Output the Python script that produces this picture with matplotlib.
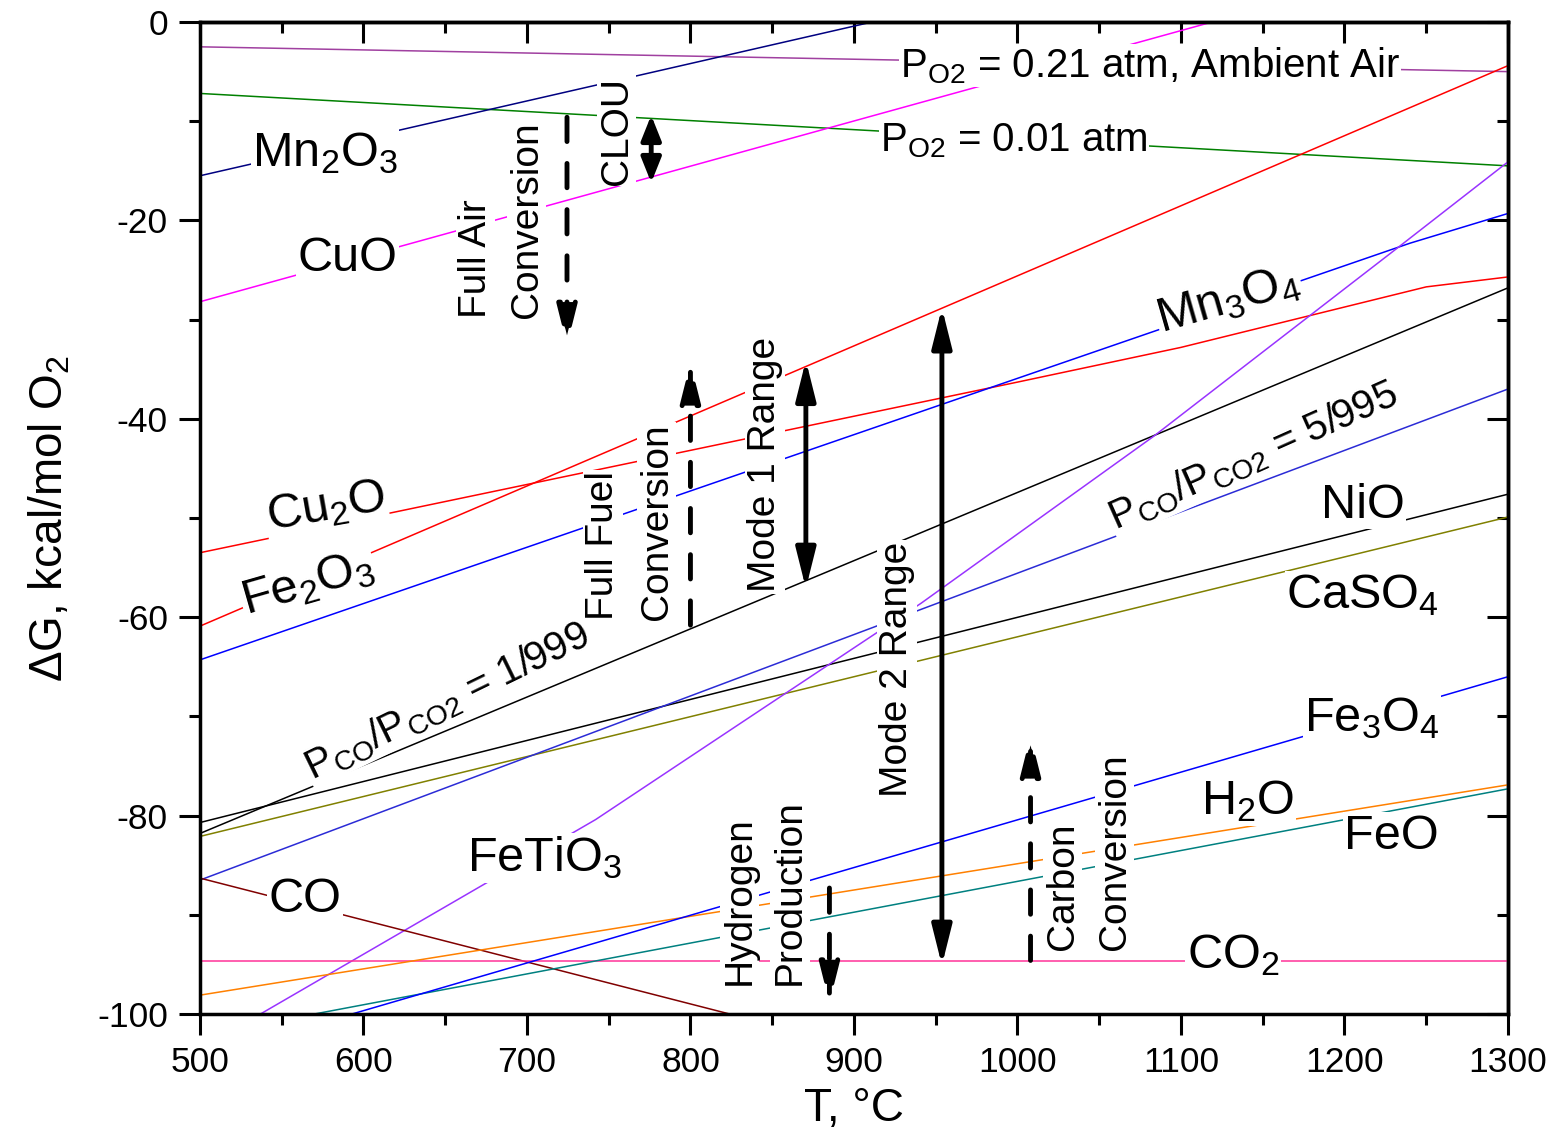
import matplotlib
matplotlib.use("Agg")
import matplotlib.pyplot as plt
from matplotlib.ticker import MultipleLocator

plt.rcParams['font.family'] = 'Liberation Sans'
plt.rcParams['mathtext.fontset'] = 'custom'
plt.rcParams['mathtext.rm'] = 'Liberation Sans'
plt.rcParams['mathtext.default'] = 'regular'
plt.rcParams['axes.unicode_minus'] = False

# --- data (T in degC, dG in kcal/mol O2) ---
po2_021_T = [500, 1300]
po2_021_G = [-2.5, -5.0]
po2_001_T = [500, 1300]
po2_001_G = [-7.2, -14.5]
mn2o3_T = [500, 911]
mn2o3_G = [-15.5, 0.0]
cuo_T = [500, 1119]
cuo_G = [-28.2, 0.0]
fe2o3_T = [500, 1300]
fe2o3_G = [-60.9, -4.4]
cu2o_T = [500, 1000, 1100, 1250, 1300]
cu2o_G = [-53.5, -36.3, -32.8, -26.7, -25.7]
mn3o4_T = [500, 1240, 1300]
mn3o4_G = [-64.3, -22.3, -19.3]
co999_T = [500, 1300]
co999_G = [-81.8, -26.8]
nio_T = [500, 1300]
nio_G = [-80.7, -47.6]
caso4_T = [500, 1300]
caso4_G = [-82.1, -49.9]
co995_T = [500, 1300]
co995_G = [-86.5, -37.0]
fetio3_T = [537, 742, 941, 1083, 1233, 1300]
fetio3_G = [-100, -80.4, -58.6, -41.8, -22.7, -14.1]
co_T = [500, 824]
co_G = [-86.3, -100]
co2_T = [500, 1300]
co2_G = [-94.7, -94.7]
h2o_T = [500, 1300]
h2o_G = [-98.1, -76.9]
feo_T = [570, 1300]
feo_G = [-100, -77.3]
fe3o4_T = [593, 1300]
fe3o4_G = [-100, -66.0]

# arrows: (T, start, end, head length)
dashed_arrows = [(724.5, -9.6, -32.6, 1.2), (800, -60.8, -34.3, 1.2),
                 (885, -87.3, -98.9, 1.2), (1008, -94.6, -71.9, 1.2)]
double_arrows = [(776, -9.4, -16.2, 0.75), (870.6, -34.1, -57.1, 1.2),
                 (953.8, -28.8, -95.1, 1.2)]

fig = plt.figure(figsize=(15.62, 11.35), dpi=100)
ax = fig.add_axes([0.128, 0.1066, 0.8374, 0.874])

lw = 1.1
ax.plot(po2_021_T, po2_021_G, color='#a040a0', lw=lw)
ax.plot(po2_001_T, po2_001_G, color='#008000', lw=lw)
ax.plot(mn2o3_T, mn2o3_G, color='#000080', lw=lw)
ax.plot(cuo_T, cuo_G, color='#ff00ff', lw=lw)
ax.plot(fe2o3_T, fe2o3_G, color='#ff0000', lw=lw)
ax.plot(cu2o_T, cu2o_G, color='#ff0000', lw=lw)
ax.plot(mn3o4_T, mn3o4_G, color='#0000ff', lw=lw)
ax.plot(co999_T, co999_G, color='#000000', lw=lw)
ax.plot(nio_T, nio_G, color='#000000', lw=lw)
ax.plot(caso4_T, caso4_G, color='#808000', lw=lw)
ax.plot(co995_T, co995_G, color='#2b2bd6', lw=lw)
ax.plot(fetio3_T, fetio3_G, color='#9933ff', lw=lw)
ax.plot(co_T, co_G, color='#800000', lw=lw)
ax.plot(co2_T, co2_G, color='#ff3399', lw=lw)
ax.plot(h2o_T, h2o_G, color='#ff8000', lw=lw)
ax.plot(feo_T, feo_G, color='#008080', lw=lw)
ax.plot(fe3o4_T, fe3o4_G, color='#0000ff', lw=lw)

wb = dict(facecolor='white', edgecolor='none', pad=1)

def lab(x, y, s, size=35, rot=0, ha='center', va='center'):
    ax.text(x, y, s, fontsize=size, rotation=rot, ha=ha, va=va,
            bbox=wb, zorder=5)

lab(576.5, -13.2, r'Mn$_2$O$_3$')
lab(590.5, -23.8, 'CuO')
lab(577, -48.9, r'Cu$_2$O', rot=10)
lab(566, -56.6, r'Fe$_2$O$_3$', rot=16)
lab(1129, -28.0, r'Mn$_3$O$_4$', rot=16)
lab(1211, -48.7, 'NiO')
lab(1211, -57.8, r'CaSO$_4$')
lab(1217, -70.2, r'Fe$_3$O$_4$')
lab(1141, -78.6, r'H$_2$O')
lab(1229, -82.1, 'FeO')
lab(1132, -94.1, r'CO$_2$')
lab(564, -88.5, 'CO')
lab(711, -84.3, r'FeTiO$_3$')
lab(928, -4.4, r'P$_{O2}$ = 0.21 atm, Ambient Air', size=29, ha='left')
lab(916, -12.0, r'P$_{O2}$ = 0.01 atm', size=29, ha='left')
lab(651, -68.5, r'P$_{CO}$/P$_{CO2}$ = 1/999', size=29, rot=26)
lab(1144, -43.8, r'P$_{CO}$/P$_{CO2}$ = 5/995', size=29, rot=24)

def vlab(x, y, s):
    ax.text(x, y, s, fontsize=28, rotation=90, ha='center', va='bottom',
            bbox=wb, zorder=5)

vlab(668.8, -29.8, 'Full Air')
vlab(700.0, -29.8, 'Conversion')
vlab(755.0, -16.4, 'CLOU')
vlab(746.5, -60.3, 'Full Fuel')
vlab(779.5, -60.3, 'Conversion')
vlab(845.6, -57.5, 'Mode 1 Range')
vlab(926.3, -78.1, 'Mode 2 Range')
vlab(830.0, -97.1, 'Hydrogen')
vlab(860.9, -97.1, 'Production')
vlab(1027.8, -93.5, 'Carbon')
vlab(1059.6, -93.5, 'Conversion')

for x, y0, y1, hl in dashed_arrows:
    ax.annotate('', xy=(x, y1), xytext=(x, y0),
                arrowprops=dict(arrowstyle=f'-|>,head_length={hl},head_width=0.3',
                                lw=3.5, color='k', mutation_scale=20,
                                linestyle=(0, (5, 4.5)), shrinkA=0, shrinkB=0),
                zorder=6)
for x, y0, y1, hl in double_arrows:
    ax.annotate('', xy=(x, y1), xytext=(x, y0),
                arrowprops=dict(arrowstyle=f'<|-|>,head_length={hl},head_width=0.3',
                                lw=3.5, color='k', mutation_scale=20,
                                shrinkA=0, shrinkB=0),
                zorder=6)

ax.set_xlim(500, 1300)
ax.set_ylim(-100, 0)
ax.xaxis.set_major_locator(MultipleLocator(100))
ax.xaxis.set_minor_locator(MultipleLocator(50))
ax.yaxis.set_major_locator(MultipleLocator(20))
ax.yaxis.set_minor_locator(MultipleLocator(10))
ax.tick_params(which='major', direction='out', length=15, width=2.2,
               labelsize=25.5, pad=8)
ax.tick_params(which='minor', direction='out', length=8, width=2.2)
for s in ax.spines.values():
    s.set_linewidth(2.5)

top = ax.secondary_xaxis('top')
top.xaxis.set_major_locator(MultipleLocator(100))
top.xaxis.set_minor_locator(MultipleLocator(50))
top.tick_params(which='major', direction='in', length=15, width=2.2, labeltop=False)
top.tick_params(which='minor', direction='in', length=8, width=2.2)
top.spines['top'].set_linewidth(2.5)
right = ax.secondary_yaxis('right')
right.yaxis.set_major_locator(MultipleLocator(20))
right.yaxis.set_minor_locator(MultipleLocator(10))
right.tick_params(which='major', direction='in', length=15, width=2.2, labelright=False)
right.tick_params(which='minor', direction='in', length=8, width=2.2)
right.spines['right'].set_linewidth(2.5)

ax.set_xlabel('T, °C', fontsize=33, labelpad=6)
ax.set_ylabel(r'ΔG, kcal/mol O$_2$', fontsize=33, labelpad=18)

fig.savefig('out.png', dpi=100)
